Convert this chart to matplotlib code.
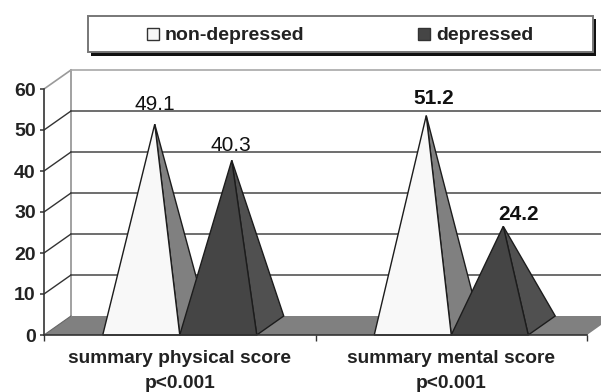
#!/usr/bin/env python3
# 3D-look pyramid chart, projection done by hand
import matplotlib
matplotlib.use("Agg")
import matplotlib.pyplot as plt
from matplotlib.patches import Polygon, Rectangle

plt.rcParams["font.family"] = ["Liberation Sans", "DejaVu Sans"]

categories = ["summary physical score\np<0.001", "summary mental score\np<0.001"]
series_names = ["non-depressed", "depressed"]
non_depressed = [49.1, 51.2]
depressed = [40.3, 24.2]
y_ticks = [0, 10, 20, 30, 40, 50, 60]

W, H = 601, 392
X0, Y0 = 44, 335      # pixel position of the front origin
PX_PER_CAT = 271.5
PX_PER_VAL = 4.1
DEPTH_X = 27 / PX_PER_CAT   # wall offset in data units
DEPTH_Y = 19 / PX_PER_VAL
BAR_W = 77 / PX_PER_CAT
XMAX = 2.0
YMAX = 60

FRONT = {"non-depressed": "#f8f8f8", "depressed": "#454545"}
SIDE = {"non-depressed": "#808080", "depressed": "#505050"}
EDGE = "#1c1c1c"
# label nudges from the apex in pixels, (series, category) -> (dx, dy)
LABEL_NUDGE = {(0, 0): (0, 10), (1, 0): (-1, 5), (0, 1): (8, 8), (1, 1): (15, 2)}

fig = plt.figure(figsize=(W / 100, H / 100), dpi=100)
ax = fig.add_axes([0, 0, 1, 1])
ax.set_xlim(-X0 / PX_PER_CAT, (W - X0) / PX_PER_CAT)
ax.set_ylim((Y0 - H) / PX_PER_VAL, Y0 / PX_PER_VAL)
ax.patch.set_visible(False)

right = ax.get_xlim()[1]

# floor
ax.add_patch(Polygon(
    [(0, 0), (XMAX, 0), (right, 0.5 * DEPTH_Y * 1.05), (right, DEPTH_Y), (DEPTH_X, DEPTH_Y)],
    closed=True, fc="#808080", ec="none", zorder=1))

# walls and gridlines
ax.plot([DEPTH_X, DEPTH_X], [DEPTH_Y, YMAX + DEPTH_Y], color="#9a9a9a", lw=1.3, zorder=2)
ax.plot([0, DEPTH_X], [YMAX, YMAX + DEPTH_Y], color="#9a9a9a", lw=1.2, zorder=2)
ax.plot([DEPTH_X, right], [YMAX + DEPTH_Y] * 2, color="#a8a8a8", lw=1.2, zorder=2)
for v in y_ticks[1:-1]:
    ax.plot([DEPTH_X, right], [v + DEPTH_Y] * 2, color="#555555", lw=1.2, zorder=2)
    ax.plot([0, DEPTH_X], [v, v + DEPTH_Y], color="#333333", lw=1.0, zorder=2)
ax.plot([0, DEPTH_X], [0, DEPTH_Y], color="#666666", lw=0.8, zorder=2)

# pyramids, left one first so the dark front covers the light side
z = 3
for i in range(len(categories)):
    for k, (name, vals) in enumerate(zip(series_names, [non_depressed, depressed])):
        x1 = i + 0.5 - BAR_W + k * BAR_W
        x2 = x1 + BAR_W
        apex = (x1 + BAR_W / 2 + DEPTH_X / 2, vals[i] + DEPTH_Y / 2)
        ax.add_patch(Polygon([(x2, 0), (x2 + DEPTH_X, DEPTH_Y), apex], closed=True,
                             fc=SIDE[name], ec=EDGE, lw=1.0, zorder=z))
        ax.add_patch(Polygon([(x1, 0), (x2, 0), apex], closed=True,
                             fc=FRONT[name], ec=EDGE, lw=1.0, zorder=z + 1))
        nx, ny = LABEL_NUDGE[(k, i)]
        ax.text(apex[0] + nx / PX_PER_CAT, apex[1] + ny / PX_PER_VAL, f"{vals[i]:.1f}",
                ha="center", va="bottom", fontsize=15, color="#111111",
                fontweight="bold" if i == 1 else "normal", zorder=10)
        z += 2

# axes
for s in ["top", "right"]:
    ax.spines[s].set_visible(False)
ax.spines["left"].set_position(("data", 0))
ax.spines["left"].set_bounds(0, YMAX)
ax.spines["bottom"].set_position(("data", 0))
ax.spines["bottom"].set_bounds(0, XMAX)
for s in ["left", "bottom"]:
    ax.spines[s].set_color("#333333")
    ax.spines[s].set_linewidth(1.2)
    ax.spines[s].set_zorder(20)
ax.set_yticks(y_ticks)
ax.set_yticklabels([str(v) for v in y_ticks], fontsize=14, fontweight="bold", color="#222222")
ax.tick_params(axis="y", length=3, width=1.1, color="#333333", pad=3)
ax.set_xticks([0, 1, 2])
ax.set_xticklabels([])
ax.tick_params(axis="x", which="major", length=4, width=1.0, color="#333333")
ax.set_xticks([0.5, 1.5], minor=True)
ax.set_xticklabels(categories, minor=True, fontsize=13.8, fontweight="bold", color="#222222",
                   linespacing=1.62)
ax.tick_params(axis="x", which="minor", length=0, pad=11)

# legend box in pixel coordinates
lax = fig.add_axes([0, 0, 1, 1], zorder=5)
lax.set_xlim(0, W)
lax.set_ylim(H, 0)
lax.axis("off")
lax.add_patch(Rectangle((91, 19), 505, 37, fc="#111111", ec="none"))
lax.add_patch(Rectangle((88, 16), 505, 36, fc="white", ec="#777777", lw=1.4))
lax.add_patch(Rectangle((147, 28), 12, 12, fc="#f8f8f8", ec="#333333", lw=1.0))
lax.text(165, 35, series_names[0], fontsize=14, fontweight="bold", color="#222222", va="center")
lax.add_patch(Rectangle((418, 28), 12, 12, fc="#454545", ec="#333333", lw=1.0))
lax.text(436, 35, series_names[1], fontsize=14, fontweight="bold", color="#222222", va="center")

fig.savefig("out.png", dpi=100)
